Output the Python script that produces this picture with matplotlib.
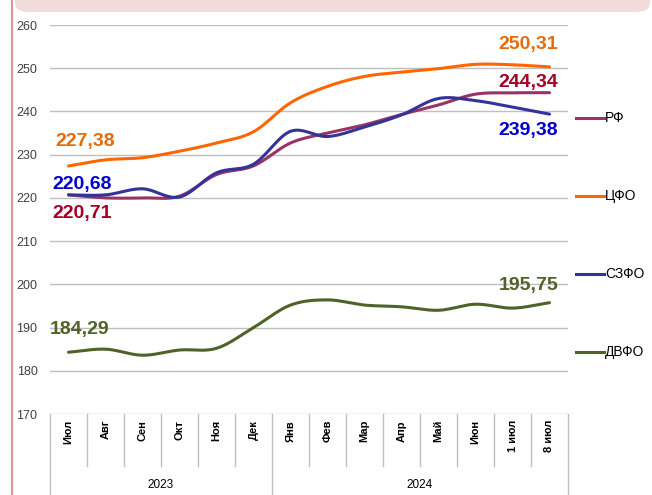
import matplotlib
matplotlib.use("Agg")
import matplotlib.pyplot as plt
import numpy as np
from matplotlib.patches import FancyBboxPatch
from matplotlib.lines import Line2D

months = ["Июл", "Авг", "Сен", "Окт", "Ноя", "Дек", "Янв", "Фев", "Мар", "Апр", "Май", "Июн", "1 июл", "8 июл"]
years = ["2023", "2024"]
year_counts = [6, 8]

rf = [220.71, 220.0, 220.0, 220.4, 225.4, 227.4, 232.7, 235.0, 236.9, 239.3, 241.5, 244.0, 244.3, 244.34]
cfo = [227.38, 228.8, 229.3, 230.8, 232.7, 235.3, 242.0, 245.8, 248.1, 249.1, 249.9, 250.9, 250.8, 250.31]
szfo = [220.68, 220.7, 222.1, 220.2, 225.8, 227.8, 235.4, 234.2, 236.4, 239.2, 243.0, 242.5, 241.0, 239.38]
dvfo = [184.29, 185.0, 183.6, 184.8, 185.2, 190.0, 195.2, 196.4, 195.2, 194.8, 194.0, 195.4, 194.5, 195.75]

series = [
    ("РФ", rf, "#993366", "#a50021"),
    ("ЦФО", cfo, "#ff6600", "#e46c0a"),
    ("СЗФО", szfo, "#333399", "#0000cc"),
    ("ДВФО", dvfo, "#4f6228", "#4f6228"),
]

def smooth(xs, ys, n=20):
    xs = np.asarray(xs, float); ys = np.asarray(ys, float)
    px = np.concatenate([[2*xs[0]-xs[1]], xs, [2*xs[-1]-xs[-2]]])
    py = np.concatenate([[2*ys[0]-ys[1]], ys, [2*ys[-1]-ys[-2]]])
    ox, oy = [], []
    for i in range(1, len(px)-2):
        t = np.linspace(0, 1, n, endpoint=False)
        for P, out in ((px, ox), (py, oy)):
            p0, p1, p2, p3 = P[i-1], P[i], P[i+1], P[i+2]
            out.extend(0.5*((2*p1) + (-p0+p2)*t + (2*p0-5*p1+4*p2-p3)*t**2 + (-p0+3*p1-3*p2+p3)*t**3))
    ox.append(xs[-1]); oy.append(ys[-1])
    return np.array(ox), np.array(oy)

W, H = 652, 495
fig = plt.figure(figsize=(W/100, H/100), dpi=100)
plt.rcParams['font.family'] = ['Liberation Sans', 'DejaVu Sans']

L, R, T, B = 50, 568, 25, 414
ax = fig.add_axes([L/W, 1-B/H, (R-L)/W, (B-T)/H])
x = np.arange(len(months))
ax.set_xlim(-0.5, len(months)-0.5)
ax.set_ylim(170, 260)
ax.set_yticks(np.arange(170, 261, 10))
ax.yaxis.grid(True, color="#bfbfbf", lw=1.0)
ax.set_axisbelow(True)
for s in ["top", "right", "left", "bottom"]:
    ax.spines[s].set_visible(False)
ax.tick_params(axis="y", length=0, labelsize=9, labelcolor="#404040", pad=9)
ax.set_xticks([])

for name, vals, lc, tc in series:
    sx, sy = smooth(x, vals)
    ax.plot(sx, sy, color=lc, lw=2.2, solid_capstyle="round")

def fmt(v):
    return f"{v:.2f}".replace(".", ",")

PX = 0.72  # points per pixel
lab_kw = dict(fontsize=14, fontweight="bold", textcoords="offset points", va="center")
left = [(cfo, 1, -13.5, 24), (szfo, 2, -16.5, 10), (rf, 0, -16.5, -19), (dvfo, 3, -18.5, 23)]
for vals, si, dx, dy in left:
    ax.annotate(fmt(vals[0]), (x[0], vals[0]), xytext=(dx*PX, dy*PX), color=series[si][3],
                ha="left", **lab_kw)
right = [(cfo, 1, 8.5, 22), (rf, 0, 8.5, 10.5), (szfo, 2, 8.5, -16), (dvfo, 3, 8.5, 17.5)]
for vals, si, dx, dy in right:
    ax.annotate(fmt(vals[-1]), (x[-1], vals[-1]), xytext=(dx*PX, dy*PX), color=series[si][3],
                ha="right", **lab_kw)

# category axis table
trans = ax.get_xaxis_transform()
ph = B - T
def yfrac(py):
    return (B - py) / ph
sep_col = "#bfbfbf"
for i in range(len(months)+1):
    xb = i - 0.5
    yend = 495 if i in (0, year_counts[0], len(months)) else 466
    ax.plot([xb, xb], [0, yfrac(yend)], transform=trans, color=sep_col, lw=1, clip_on=False)
for i, m in enumerate(months):
    ax.text(i, yfrac(420), m, transform=trans, rotation=90, ha="center", va="top",
            fontsize=8, fontweight="bold", color="black")
start = 0
for yl, c in zip(years, year_counts):
    ax.text(start + (c-1)/2, yfrac(485), yl, transform=trans, ha="center", va="center",
            fontsize=8.5, color="black")
    start += c

# legend
ly = [118, 196, 274, 352]
for (name, vals, lc, tc), yy in zip(series, ly):
    fy = 1 - yy/H
    fig.add_artist(Line2D([576/W, 604/W], [fy, fy], color=lc, lw=2.2))
    fig.text(605/W, fy, name, ha="left", va="center", fontsize=10, color="black")

# decorative frame
fig.add_artist(Line2D([12/W, 12/W], [0, 1], color="#d99694", lw=1.5))
band = FancyBboxPatch((15/W, 1-12/H), (650-15)/W, 12/H + 0.05,
                      boxstyle="round,pad=0,rounding_size=0.02", transform=fig.transFigure,
                      facecolor="#f2dcdb", edgecolor="none")
fig.add_artist(band)

fig.savefig("out.png", dpi=100)
